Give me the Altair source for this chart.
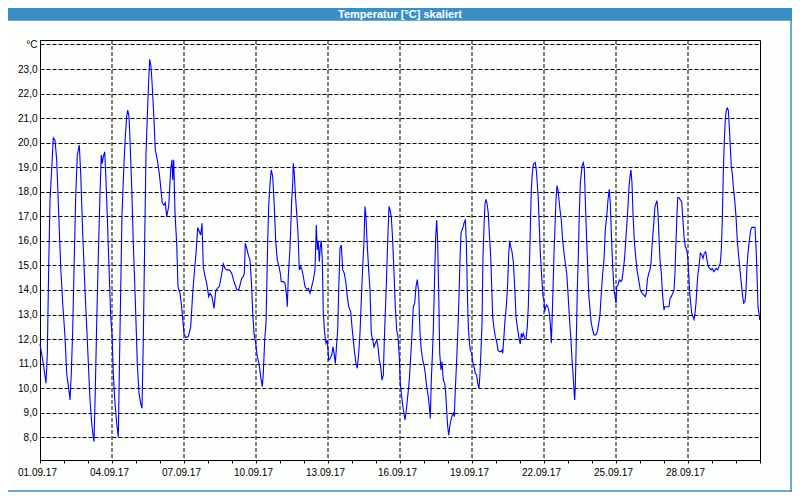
import json
import pandas as pd
import altair as alt

title_text = "Temperatur [°C] skaliert"
date_labels = ["01.09.17", "04.09.17", "07.09.17", "10.09.17", "13.09.17",
               "16.09.17", "19.09.17", "22.09.17", "25.09.17", "28.09.17"]
y_ticks = list(range(8, 25))
day_ticks = list(range(0, 721, 24))  # hours since 01.09.17 00:00

# (hours since 01.09.17 00:00, temperature in °C)
seg1 = [(0.0, 11.8), (3.3, 11.0), (6.0, 10.2), (7.3, 11.35), (8.7, 14.95), (10.0, 17.66), (12.0, 19.16),
        (13.3, 20.2), (15.0, 20.1), (16.7, 19.3), (18.7, 17.12), (20.7, 14.95), (22.7, 13.46), (25.0, 12.1),
        (26.7, 10.6), (29.3, 9.79), (30.0, 9.52), (31.3, 10.6), (32.7, 12.37), (34.3, 15.36), (35.7, 17.8),
        (37.3, 19.5), (39.3, 19.9), (40.7, 18.75), (42.7, 16.31), (45.0, 14.0), (47.3, 11.96), (50.0, 9.52),
        (51.7, 8.57), (53.3, 8.0), (54.0, 7.82), (55.3, 9.93), (56.7, 12.64), (58.3, 15.36), (60.0, 17.94),
        (61.3, 19.5), (62.3, 19.16), (63.3, 19.43), (64.7, 19.63), (65.7, 18.75), (67.3, 16.99), (69.0, 14.95),
        (70.7, 12.91), (72.0, 12.23), (73.3, 10.6), (75.0, 9.38), (76.7, 8.57), (78.3, 8.0), (79.3, 10.6),
        (80.7, 14.0), (82.0, 17.12), (84.0, 19.16), (85.3, 20.25), (86.7, 21.06), (87.7, 21.33), (89.0, 21.06),
        (90.0, 20.1), (91.7, 18.21), (93.3, 15.9), (95.3, 13.59), (97.3, 11.0), (99.0, 9.79), (100.7, 9.38),
        (102.0, 9.18), (103.3, 11.96), (104.7, 16.0), (106.0, 19.57), (107.3, 21.06), (108.7, 22.55),
        (109.7, 23.4), (111.0, 23.1), (112.3, 22.28), (114.0, 20.92), (115.3, 19.7), (117.3, 19.3),
        (119.3, 18.75), (121.0, 18.07), (122.3, 17.53), (124.0, 17.46), (125.3, 17.56), (126.7, 16.99),
        (128.7, 17.4), (130.7, 18.9), (132.0, 19.3), (132.7, 18.48), (133.7, 19.3), (135.0, 17.12),
        (136.7, 15.9), (138.0, 14.14), (140.0, 13.87), (141.7, 13.3), (144.0, 12.23), (145.7, 12.06),
        (148.3, 12.1), (150.7, 12.5), (152.7, 13.87), (154.3, 14.7), (156.0, 15.5), (157.7, 16.54),
        (159.3, 16.38), (160.7, 16.24), (162.0, 16.72), (163.3, 14.95), (165.0, 14.55), (166.7, 14.27),
        (168.7, 13.73), (170.0, 13.87), (172.0, 13.73), (174.0, 13.25), (175.7, 13.94), (177.3, 14.07),
        (179.3, 14.14), (181.3, 14.55), (183.3, 15.06), (185.0, 14.88), (186.7, 14.82), (189.3, 14.82),
        (191.7, 14.68), (194.0, 14.34), (196.7, 14.03), (198.7, 14.0), (200.0, 14.2)]

seg2 = [(201.7, 14.48), (203.3, 14.55), (204.3, 14.68), (205.3, 15.9), (206.7, 15.7), (208.3, 15.43),
        (210.0, 15.22), (211.7, 14.14), (212.7, 13.05), (214.0, 12.23), (215.7, 11.83), (217.3, 11.28),
        (219.0, 11.0), (220.7, 10.47), (222.3, 10.06), (223.3, 10.6), (224.7, 11.96), (226.0, 12.64),
        (226.7, 14.0), (227.7, 16.0), (228.7, 17.4), (230.0, 18.34), (231.3, 18.89), (232.7, 18.62),
        (234.3, 17.4), (235.7, 16.0), (237.3, 15.22), (239.0, 14.95), (240.3, 14.68), (241.3, 14.34),
        (243.3, 14.34), (245.0, 14.27), (246.7, 13.73), (247.3, 13.32), (248.3, 14.55), (249.7, 15.5),
        (250.7, 16.45), (251.7, 17.67), (252.7, 18.34), (253.3, 19.16), (254.3, 18.75), (255.3, 17.94),
        (256.7, 17.12), (258.0, 16.31), (259.3, 14.82), (260.7, 14.95), (262.0, 14.82), (263.3, 14.55),
        (265.0, 14.14), (266.7, 14.03), (268.3, 14.07), (270.0, 13.87), (271.7, 14.14), (273.3, 14.41),
        (275.0, 14.82), (276.3, 16.65), (277.3, 15.63), (278.3, 16.0), (279.3, 15.15), (280.3, 15.77),
        (281.3, 16.0), (282.3, 15.22), (283.3, 13.05), (284.7, 12.23), (286.0, 11.83), (287.3, 11.96),
        (288.7, 11.15), (290.0, 11.2), (291.7, 11.35), (293.0, 11.68), (294.3, 11.35), (295.3, 11.0),
        (296.7, 11.83), (297.7, 12.37), (298.7, 14.0), (300.0, 15.7), (301.3, 15.83), (302.7, 14.82),
        (304.3, 14.68), (306.0, 14.27), (307.3, 13.73), (308.7, 13.32), (310.7, 13.12), (312.0, 12.5),
        (313.3, 11.96), (314.7, 11.42), (316.0, 11.0), (317.3, 10.81), (318.7, 11.42), (320.0, 12.23),
        (321.3, 13.59), (322.7, 14.95), (324.0, 16.0), (325.0, 17.4), (326.0, 16.99), (327.0, 16.0),
        (328.7, 14.82), (330.0, 14.0), (331.3, 12.23), (332.7, 11.96), (334.0, 11.68), (335.3, 11.83),
        (336.7, 11.96), (338.0, 11.68), (339.3, 11.15), (340.7, 10.88), (342.0, 10.33), (343.3, 10.53),
        (344.3, 11.96), (345.3, 13.05), (346.7, 14.68), (347.7, 16.0), (349.0, 17.4), (350.0, 17.26),
        (351.3, 16.99), (352.7, 16.0), (354.0, 14.68), (355.3, 13.32), (356.7, 12.37), (358.0, 12.1),
        (359.3, 11.28), (360.3, 10.2), (361.7, 9.66), (363.3, 9.11), (365.0, 8.71), (366.3, 9.11),
        (368.0, 9.79), (369.3, 10.33), (370.7, 11.28), (372.0, 12.23), (373.3, 13.32), (374.7, 13.46),
        (376.0, 14.14), (377.3, 14.43), (378.7, 13.87), (380.0, 12.23), (381.3, 11.55), (382.7, 11.15),
        (384.0, 10.94), (385.3, 10.6), (386.7, 10.06), (388.3, 9.66), (389.3, 9.25), (390.3, 8.77),
        (391.3, 10.33), (392.3, 11.28), (393.3, 12.37), (394.7, 14.68), (395.7, 16.17), (396.7, 16.85),
        (397.7, 15.9), (398.7, 13.87), (399.7, 11.42)]

seg3 = [(401.0, 10.74), (402.0, 11.08), (403.3, 10.33), (404.7, 10.2), (405.7, 9.79), (406.7, 9.11),
        (407.7, 8.43), (408.7, 8.09), (409.7, 8.43), (411.0, 8.71), (412.3, 8.91), (413.3, 8.98),
        (414.3, 8.84), (415.3, 9.93), (416.7, 11.15), (418.0, 12.5), (419.0, 13.73), (420.0, 15.22),
        (421.0, 16.31), (422.0, 16.45), (423.3, 16.58), (424.3, 16.78), (425.3, 16.85), (426.3, 16.0),
        (427.3, 14.0), (428.3, 12.5), (429.3, 11.9), (430.3, 11.55), (431.7, 11.42), (432.7, 11.08),
        (434.0, 10.88), (435.3, 10.6), (436.7, 10.53), (437.7, 10.2), (439.0, 9.99), (440.0, 10.6),
        (441.0, 11.55), (442.0, 12.64), (443.0, 15.36), (444.0, 16.58), (445.0, 17.53), (446.0, 17.69),
        (447.0, 17.53), (448.3, 17.12), (449.3, 16.31), (450.7, 15.36), (451.7, 14.14), (452.7, 12.91),
        (454.0, 12.44), (455.3, 12.1), (456.7, 11.9), (458.0, 11.55), (459.3, 11.49), (460.7, 11.49),
        (462.0, 11.55), (462.7, 11.42), (463.7, 11.96), (465.0, 12.78), (466.3, 13.32), (467.7, 14.27),
        (468.7, 15.5), (469.7, 16.0), (470.7, 15.77), (472.0, 15.56), (473.3, 15.15), (474.7, 14.14),
        (476.0, 12.91), (477.3, 12.5), (478.3, 12.23), (479.3, 11.96), (480.3, 11.8), (481.3, 12.23),
        (482.3, 12.1), (483.3, 12.23), (484.7, 12.03), (486.0, 11.99), (487.3, 12.5), (488.3, 13.32),
        (489.3, 14.82), (490.3, 16.45), (491.3, 18.07), (492.3, 18.75), (493.3, 19.1), (494.3, 19.16),
        (495.3, 19.19), (496.3, 18.89), (497.3, 18.34), (498.3, 17.67), (499.3, 16.58), (500.3, 15.5),
        (501.7, 14.55), (503.0, 13.73), (504.0, 13.59), (504.7, 13.12), (505.7, 13.32), (506.7, 13.39),
        (507.7, 13.32), (508.7, 13.19), (509.7, 12.91), (510.7, 12.37), (511.3, 11.83), (512.0, 12.64),
        (513.0, 14.0), (514.0, 15.5), (515.0, 16.58), (516.0, 17.67), (517.0, 18.25), (518.0, 18.07),
        (519.0, 17.67), (520.0, 17.26), (521.3, 16.85), (522.7, 16.0), (524.0, 15.5), (525.3, 15.09),
        (526.7, 14.68), (528.0, 13.87), (529.0, 13.19), (530.0, 12.5), (531.0, 11.96), (532.0, 11.15),
        (533.0, 10.6), (534.0, 9.93), (534.7, 9.52), (535.3, 10.06), (536.3, 11.96), (537.3, 14.0),
        (538.3, 15.36), (539.3, 17.12), (540.3, 18.34), (541.3, 18.75), (542.3, 19.1), (543.3, 19.19),
        (544.3, 18.96), (545.3, 17.67), (546.7, 16.0), (547.7, 14.95), (548.7, 13.87), (550.0, 13.19),
        (551.3, 12.64), (552.7, 12.37), (554.0, 12.17), (555.7, 12.17), (557.3, 12.3), (558.7, 12.64),
        (560.0, 12.98)]

seg4 = [(561.3, 13.87), (562.7, 14.68), (564.0, 15.22), (565.3, 16.45), (566.7, 16.99), (568.0, 17.67),
        (569.3, 18.1), (570.3, 17.53), (571.3, 16.31), (572.7, 14.95), (574.0, 14.0), (575.0, 13.73),
        (576.0, 13.46), (576.7, 14.14), (578.0, 14.2), (579.3, 14.41), (580.7, 14.34), (582.0, 14.41),
        (583.3, 14.82), (584.7, 15.36), (585.7, 16.0), (586.7, 16.58), (588.0, 17.4), (589.0, 18.21),
        (590.0, 18.62), (591.0, 18.89), (592.0, 18.34), (593.0, 17.12), (594.3, 16.0), (595.7, 15.36),
        (597.0, 14.82), (598.7, 14.41), (600.3, 14.0), (602.0, 13.87), (603.7, 13.8), (605.3, 13.73),
        (606.3, 13.87), (607.3, 14.41), (608.7, 14.68), (610.0, 14.82), (611.0, 15.09), (612.0, 15.77),
        (613.0, 16.31), (614.0, 16.85), (615.0, 17.4), (616.0, 17.53), (617.0, 17.64), (618.0, 17.12),
        (619.0, 16.17), (620.0, 15.22), (621.3, 14.68), (622.7, 13.73), (624.0, 13.19), (625.0, 13.32),
        (626.0, 13.32), (627.7, 13.32), (629.0, 13.32), (630.0, 13.66), (631.3, 13.73), (632.7, 13.87),
        (634.0, 14.0), (635.0, 14.68), (636.0, 16.0), (637.0, 17.12), (637.7, 17.77), (639.0, 17.77),
        (640.3, 17.67), (641.7, 17.6), (642.7, 16.99), (644.0, 16.17), (645.3, 15.77), (646.7, 15.63),
        (647.7, 15.36), (648.7, 14.68), (649.7, 13.87), (650.7, 13.46), (651.7, 13.05), (653.0, 12.91),
        (654.0, 12.8), (655.0, 13.05), (656.0, 13.46), (657.0, 14.14), (658.0, 14.68), (659.0, 14.95),
        (660.3, 15.5), (661.7, 15.43), (663.0, 15.29), (664.3, 15.5), (665.7, 15.56), (667.0, 15.22),
        (668.3, 14.95), (669.7, 14.88), (671.0, 14.82), (672.3, 14.88), (673.7, 14.75), (675.0, 14.82),
        (676.3, 14.88), (677.7, 14.82), (679.0, 14.95), (680.3, 15.09), (681.3, 15.63), (682.3, 16.85),
        (683.3, 18.75), (684.3, 20.1), (685.3, 20.92), (686.3, 21.33), (687.3, 21.41), (688.3, 21.33),
        (689.3, 20.65), (690.3, 19.84), (691.3, 19.02), (692.3, 18.75), (693.3, 18.21), (694.7, 17.67),
        (696.0, 16.99), (697.3, 16.0), (698.7, 15.36), (700.0, 14.82), (701.3, 14.27), (702.7, 13.73),
        (703.7, 13.46), (705.0, 13.53), (706.0, 14.0), (707.0, 14.95), (708.0, 15.5), (709.3, 16.0),
        (710.7, 16.45), (712.0, 16.55), (713.3, 16.55), (715.0, 16.55), (716.0, 15.77), (717.0, 14.68),
        (718.0, 13.32), (719.0, 13.05), (719.7, 12.78)]

points = seg1 + seg2 + seg3 + seg4
df = pd.DataFrame(points, columns=["hour", "temp"])
grid_df = pd.DataFrame({"h": [72 * i for i in range(1, len(date_labels))]})
one = pd.DataFrame({"title": [title_text]})

W, H = 720, 420
PAD = {"left": 32, "top": 32, "right": 32, "bottom": 32}
FONT = "Liberation Sans"
BAR = "#3b8fc6"

x_scale = alt.Scale(domain=[0, 720], nice=False, zero=False)
y_scale = alt.Scale(domain=[7.075, 24.183], nice=False, zero=False)

label_js = json.dumps(date_labels)
x_axis = alt.Axis(
    values=day_ticks, title=None, grid=False, ticks=True, tickSize=3, tickColor="black",
    domain=True, domainColor="black", labelFont=FONT, labelFontSize=10, labelColor="black",
    labelPadding=4, labelOffset=-3, labelFlush=False, labelOverlap=False,
    labelExpr=f"(datum.value % 72 === 0 && datum.value < 720) ? {label_js}[datum.value / 72] : ''",
)
y_axis = alt.Axis(
    values=y_ticks, title=None, grid=True, gridColor="black", gridDash=[4, 2], gridOpacity=1,
    gridWidth=1, ticks=False, domain=True, domainColor="black", labelFont=FONT, labelFontSize=10,
    labelColor="black", labelPadding=3, labelFlush=False, labelOverlap=False, labelBaseline="middle",
    labelExpr="datum.value == 24 ? '°C' : replace(format(datum.value, '.1f'), '.', ',')",
)

vgrid = alt.Chart(grid_df).mark_rule(color="black", strokeDash=[4, 2], strokeWidth=1).encode(
    x=alt.X("h:Q", scale=x_scale, axis=x_axis)
)

line = alt.Chart(df).mark_line(color="#0000ff", strokeWidth=1.1, interpolate="linear").encode(
    x=alt.X("hour:Q", scale=x_scale, axis=x_axis),
    y=alt.Y("temp:Q", scale=y_scale, axis=y_axis),
)

bar = alt.Chart(one).mark_rect(color=BAR).encode(
    x=alt.value(-PAD["left"]), x2=alt.value(W + PAD["right"]),
    y=alt.value(-PAD["top"]), y2=alt.value(-19.3),
)
title = alt.Chart(one).mark_text(
    color="white", font=FONT, fontSize=11, fontWeight="bold", align="center", baseline="middle"
).encode(x=alt.value(W / 2), y=alt.value(-25.5), text="title:N")

right_border = alt.Chart(one).mark_rule(color=BAR, strokeWidth=1.5).encode(
    x=alt.value(W + PAD["right"] - 1), y=alt.value(-PAD["top"]), y2=alt.value(H + PAD["bottom"])
)
bottom_border = alt.Chart(one).mark_rule(color=BAR, strokeWidth=1.5).encode(
    x=alt.value(-PAD["left"]), x2=alt.value(W + PAD["right"]), y=alt.value(H + PAD["bottom"] - 1)
)

chart = alt.layer(vgrid, line, bar, title, right_border, bottom_border).properties(
    width=W, height=H, padding=PAD, autosize=alt.AutoSizeParams(type="none"),
    background="#fcfefc",
).configure_view(stroke="black", strokeWidth=1)

chart.save("out.html", embed_options={"renderer": "svg", "actions": False})
